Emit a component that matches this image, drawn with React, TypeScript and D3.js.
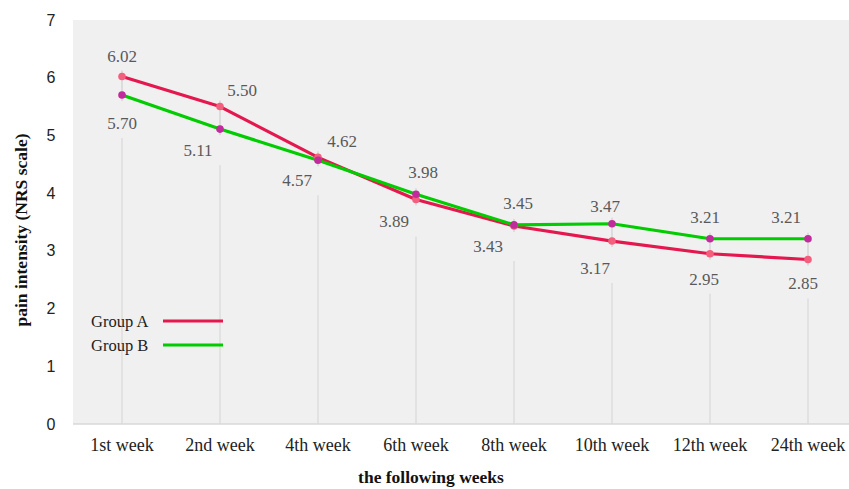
import React from 'react';
import * as d3 from 'd3';

const weeks = ['1st week', '2nd week', '4th week', '6th week', '8th week', '10th week', '12th week', '24th week'];
const groupA = [6.02, 5.5, 4.62, 3.89, 3.43, 3.17, 2.95, 2.85];
const groupB = [5.7, 5.11, 4.57, 3.98, 3.45, 3.47, 3.21, 3.21];
const yTicks = [0, 1, 2, 3, 4, 5, 6, 7];

// label offsets from each point (dx, dy)
const offA: [number, number][] = [[0, -21], [22, -17], [24, -16], [-22, 22], [-26, 20], [-17, 27], [-6, 25], [-5, 24]];
const offB: [number, number][] = [[0, 28], [-22, 21], [-21, 20], [7, -22], [4, -22], [-7, -18], [-5, -22], [-22, -22]];

const W = 849;
const H = 489;
const left = 73;
const top = 20;
const bottom = 424;

export default function App() {
  const x = d3.scalePoint<string>().domain(weeks).range([left, 857]).padding(0.5);
  const y = d3.scaleLinear().domain([0, 7]).range([bottom, top]);
  const line = d3.line<number>().x((_, i) => x(weeks[i])!).y(d => y(d));

  const serif = '"Liberation Serif", "Times New Roman", serif';

  return (
    <svg width={W} height={H} style={{ position: 'absolute', left: 0, top: 0, background: '#fff' }}>
      <rect x={left} y={top} width={W - left} height={bottom - top} fill="#f0f0f0" />
      {/* drop lines */}
      {weeks.map((w, i) => {
        const la = y(groupA[i]) + offA[i][1];
        const lb = y(groupB[i]) + offB[i][1];
        const low = Math.max(la, lb) + 15;
        const pTop = Math.min(y(groupA[i]), y(groupB[i])) - 6;
        const pBot = Math.max(y(groupA[i]), y(groupB[i])) + 6;
        return (
          <g key={w}>
            <line x1={x(w)} x2={x(w)} y1={low} y2={bottom} stroke="#d4d4d4" strokeWidth={1} />
            <line x1={x(w)} x2={x(w)} y1={pTop} y2={pBot} stroke="#c8c8c8" strokeWidth={1} />
          </g>
        );
      })}
      <line x1={left} x2={W} y1={bottom} y2={bottom} stroke="#d9d9d9" strokeWidth={1.5} />
      {/* y ticks */}
      {yTicks.map(t => (
        <text key={t} x={51} y={y(t)} dy="0.35em" textAnchor="middle" fontFamily='"Liberation Sans", Arial, sans-serif' fontSize={16} fill="#222">
          {t}
        </text>
      ))}
      {/* x ticks */}
      {weeks.map(w => (
        <text key={w} x={x(w)} y={445} dy="0.35em" textAnchor="middle" fontFamily={serif} fontSize={18} fill="#222">
          {w}
        </text>
      ))}
      <path d={line(groupA) || ''} fill="none" stroke="#e5174f" strokeWidth={3.2} strokeLinejoin="round" />
      <path d={line(groupB) || ''} fill="none" stroke="#00cc00" strokeWidth={3.2} strokeLinejoin="round" />
      {groupA.map((v, i) => (
        <circle key={'a' + i} cx={x(weeks[i])} cy={y(v)} r={3.8} fill="#f2607e" />
      ))}
      {groupB.map((v, i) => (
        <circle key={'b' + i} cx={x(weeks[i])} cy={y(v)} r={3.8} fill="#c02c9c" />
      ))}
      {groupA.map((v, i) => (
        <text key={'ta' + i} x={x(weeks[i])! + offA[i][0]} y={y(v) + offA[i][1]} dy="0.35em" textAnchor="middle" fontFamily={serif} fontSize={17} fill="#595959">
          {v.toFixed(2)}
        </text>
      ))}
      {groupB.map((v, i) => (
        <text key={'tb' + i} x={x(weeks[i])! + offB[i][0]} y={y(v) + offB[i][1]} dy="0.35em" textAnchor="middle" fontFamily={serif} fontSize={17} fill="#595959">
          {v.toFixed(2)}
        </text>
      ))}
      {/* legend */}
      <text x={91} y={321} dy="0.35em" fontFamily={serif} fontSize={16.5} fill="#222">Group A</text>
      <line x1={163} x2={223} y1={321} y2={321} stroke="#e5174f" strokeWidth={3.2} />
      <text x={91} y={345} dy="0.35em" fontFamily={serif} fontSize={16.5} fill="#222">Group B</text>
      <line x1={163} x2={223} y1={345} y2={345} stroke="#00cc00" strokeWidth={3.2} />
      {/* axis titles */}
      <text x={431} y={477} dy="0.35em" textAnchor="middle" fontFamily={serif} fontSize={17.5} fontWeight="bold" fill="#111">
        the following weeks
      </text>
      <text transform="translate(21,230) rotate(-90)" dy="0.35em" textAnchor="middle" fontFamily={serif} fontSize={17.5} fontWeight="bold" fill="#111">
        pain intensity (NRS scale)
      </text>
    </svg>
  );
}
